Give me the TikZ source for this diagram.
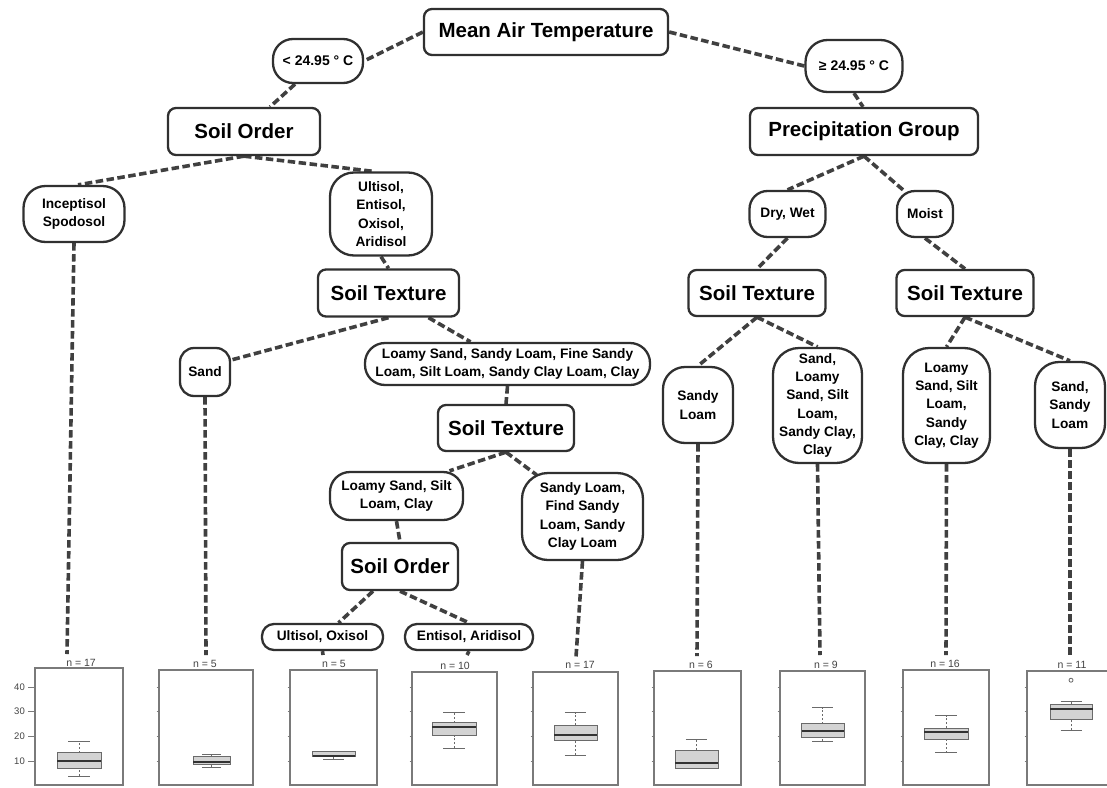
\documentclass[tikz,border=0pt]{standalone}
\usepackage{fontspec}
\setmainfont{Liberation Sans}
\usetikzlibrary{backgrounds}
\pgfdeclarelayer{bottom}
\pgfsetlayers{bottom,background,main}
\definecolor{lineC}{HTML}{303030}
\definecolor{edgeC}{HTML}{404040}
\definecolor{panelC}{HTML}{7A7A7A}
\definecolor{boxF}{HTML}{D3D3D3}
\definecolor{boxD}{HTML}{6A6A6A}
\definecolor{txtC}{HTML}{444444}
\newcommand\bxplot[7]{% xl xr wlo q1 med q3 whi
  \pgfmathsetmacro\bxc{(#1+#2)/2}
  \pgfmathsetmacro\bcw{(#2-#1)/4}
  \draw[whisk] (\bxc,{vy(#3)}) -- (\bxc,{vy(#4)});
  \draw[whisk] (\bxc,{vy(#6)}) -- (\bxc,{vy(#7)});
  \draw[capl] ({\bxc-\bcw},{vy(#3)}) -- ({\bxc+\bcw},{vy(#3)});
  \draw[capl] ({\bxc-\bcw},{vy(#7)}) -- ({\bxc+\bcw},{vy(#7)});
  \draw[boxs] (#1,{vy(#4)}) rectangle (#2,{vy(#6)});
  \draw[medl] (#1,{vy(#5)}) -- (#2,{vy(#5)});
}
\newcommand\panelframe[3]{% xl xr top
  \draw[panel] (#1,#3) rectangle (#2,785);
  \foreach \tv in {10,20,30,40}{\draw[tickl] ({#1-2.5},{vy(\tv)}) -- (#1,{vy(\tv)});}
}
\begin{document}
\begin{tikzpicture}[x=1pt,y=-1pt,
  declare function={vy(\v)=761.3-(\v-10)*2.48;},
  bignode/.style={draw=lineC,line width=2.3pt,rounded corners=8pt,fill=white,inner sep=0pt,
    font=\bfseries\fontsize{20.5}{24}\selectfont},
  labnode/.style={draw=lineC,line width=2.3pt,fill=white,inner sep=0pt,align=center,
    font=\bfseries\fontsize{13.7}{18.3}\selectfont},
  tempnode/.style={labnode,font=\bfseries\fontsize{14}{17}\selectfont},
  conn/.style={draw=edgeC,line width=3.6pt,dash pattern=on 7.5pt off 3.5pt},
  panel/.style={draw=panelC,line width=1.3pt},
  tickl/.style={draw=panelC,line width=0.7pt},
  whisk/.style={draw=boxD,line width=0.8pt,dash pattern=on 2pt off 2pt},
  capl/.style={draw=boxD,line width=1pt},
  boxs/.style={draw=boxD,fill=boxF,line width=1pt},
  medl/.style={draw=black!80,line width=2pt},
  nlab/.style={font=\fontsize{10.5}{12}\selectfont,text=txtC,inner sep=0pt},
  axlab/.style={font=\fontsize{9.5}{11}\selectfont,text=txtC,inner sep=0pt,anchor=east}
]
\useasboundingbox (0,0) rectangle (1107,787);
\begin{pgfonlayer}{bottom}
\fill[white] (0,0) rectangle (1107,787);
\end{pgfonlayer}

% ---------- tree nodes ----------
\node[bignode,minimum width=244pt,minimum height=46pt] (mat) at (546,32) {Mean Air Temperature};
\node[tempnode,rounded corners=20pt,minimum width=90pt,minimum height=44pt] (lt) at (318,61) {< 24.95 ° C};
\node[tempnode,rounded corners=22pt,minimum width=97pt,minimum height=52pt] (ge) at (854,66) {≥ 24.95 ° C};
\node[bignode,minimum width=152pt,minimum height=47pt] (so1) at (244,131.5) {Soil Order};
\node[bignode,minimum width=228pt,minimum height=47pt] (pg) at (864,131.5) {Precipitation Group};
\node[labnode,rounded corners=22pt,minimum width=101pt,minimum height=56pt] (inc) at (74,214) {Inceptisol\\Spodosol};
\node[labnode,rounded corners=24pt,minimum width=102pt,minimum height=83pt] (ult) at (381,214) {Ultisol,\\Entisol,\\Oxisol,\\Aridisol};
\node[bignode,minimum width=141pt,minimum height=47pt] (st1) at (388.5,293) {Soil Texture};
\node[labnode,rounded corners=14pt,minimum width=50pt,minimum height=48pt] (sand) at (205,372) {Sand};
\node[labnode,rounded corners=20pt,minimum width=285pt,minimum height=42pt] (lsl) at (507.5,364) {Loamy Sand, Sandy Loam, Fine Sandy\\Loam, Silt Loam, Sandy Clay Loam, Clay};
\node[bignode,minimum width=136pt,minimum height=46pt] (st2) at (506,428) {Soil Texture};
\node[labnode,rounded corners=20pt,minimum width=133pt,minimum height=48pt] (lsc) at (396.5,496) {Loamy Sand, Silt\\Loam, Clay};
\node[labnode,rounded corners=26pt,minimum width=121pt,minimum height=87pt] (slf) at (582.5,516.5) {Sandy Loam,\\Find Sandy\\Loam, Sandy\\Clay Loam};
\node[bignode,minimum width=116pt,minimum height=47pt] (so2) at (400,566.5) {Soil Order};
\node[labnode,rounded corners=12pt,minimum width=121pt,minimum height=26pt] (uo) at (322.5,637) {Ultisol, Oxisol};
\node[labnode,rounded corners=12pt,minimum width=128pt,minimum height=26pt] (ea) at (469,637) {Entisol, Aridisol};
\node[labnode,rounded corners=18pt,minimum width=76pt,minimum height=46pt] (dw) at (787.5,214) {Dry, Wet};
\node[labnode,rounded corners=18pt,minimum width=56pt,minimum height=46pt] (mo) at (925,214) {Moist};
\node[bignode,minimum width=137pt,minimum height=46pt] (st3) at (757,293) {Soil Texture};
\node[bignode,minimum width=137pt,minimum height=46pt] (st4) at (965,293) {Soil Texture};
\node[labnode,rounded corners=22pt,minimum width=70pt,minimum height=76pt] (sl) at (698,405) {Sandy\\Loam};
\node[labnode,rounded corners=26pt,minimum width=89pt,minimum height=115pt] (sls) at (817.5,405.5) {Sand,\\Loamy\\Sand, Silt\\Loam,\\Sandy Clay,\\Clay};
\node[labnode,rounded corners=26pt,minimum width=87pt,minimum height=115pt] (lss) at (946.5,405.5) {Loamy\\Sand, Silt\\Loam,\\Sandy\\Clay, Clay};
\node[labnode,rounded corners=24pt,minimum width=70pt,minimum height=86pt] (ssl) at (1070,405) {Sand,\\Sandy\\Loam};

% ---------- panel labels and free ends ----------
\node[nlab] (n1) at (81,663) {n = 17};
\node[nlab] (n2) at (205,664) {n = 5};
\node[nlab] (n3) at (334,664) {n = 5};
\node[nlab] (n4) at (455,666) {n = 10};
\node[nlab] (n5) at (580,665) {n = 17};
\node[nlab] (n6) at (701,665) {n = 6};
\node[nlab] (n7) at (826,665) {n = 9};
\node[nlab] (n8) at (945,664) {n = 16};
\node[nlab] (n9) at (1072,665) {n = 11};
\coordinate (e1) at (67,654);
\coordinate (e2) at (206,655);
\coordinate (e3) at (323,655);
\coordinate (e4) at (467,655);
\coordinate (e5) at (576,657);
\coordinate (e6) at (697,656);
\coordinate (e7) at (820,655);
\coordinate (e8) at (946,655);
\coordinate (e9) at (1070,657);

% ---------- connectors ----------
\begin{scope}[on background layer]
\draw[conn] (mat.west) -- (lt.east);
\draw[conn] (mat.east) -- (ge.west);
\draw[conn] ([xshift=-23pt]lt.south) -- ([xshift=26pt]so1.north);
\draw[conn] (ge.south) -- ([xshift=-1pt]pg.north);
\draw[conn] (so1.south) -- ([xshift=4pt]inc.north);
\draw[conn] (so1.south) -- ([xshift=-8pt]ult.north);
\draw[conn] (ult.south) -- (st1.north);
\draw[conn] (st1.south) -- ([yshift=12pt]sand.east);
\draw[conn] ([xshift=40pt]st1.south) -- ([xshift=-37pt]lsl.north);
\draw[conn] (lsl.south) -- (st2.north);
\draw[conn] (st2.south) -- ([xshift=53pt]lsc.north);
\draw[conn] (st2.south) -- ([xshift=-46pt,yshift=-3pt]slf.north);
\draw[conn] (lsc.south) -- (so2.north);
\draw[conn] ([xshift=-27pt]so2.south) -- ([xshift=16pt]uo.north);
\draw[conn] (so2.south) -- (ea.north);
\draw[conn] (pg.south) -- (dw.north);
\draw[conn] (pg.south) -- ([xshift=-22pt]mo.north);
\draw[conn] (dw.south) -- (st3.north);
\draw[conn] (mo.south) -- (st4.north);
\draw[conn] (st3.south) -- (sl.north);
\draw[conn] (st3.south) -- (sls.north);
\draw[conn] (st4.south) -- (lss.north);
\draw[conn] (st4.south) -- (ssl.north);
\draw[conn] (inc.south) -- (e1);
\draw[conn] (sand.south) -- (e2);
\draw[conn] (uo.south) -- (e3);
\draw[conn] (ea.south) -- (e4);
\draw[conn] (slf.south) -- (e5);
\draw[conn] (sl.south) -- (e6);
\draw[conn] (sls.south) -- (e7);
\draw[conn] (lss.south) -- (e8);
\draw[conn] (ssl.south) -- (e9);
\end{scope}

% ---------- box plot panels ----------
\draw[panel] (35,668) rectangle (123,785);
\foreach \tv in {10,20,30,40}{
  \draw[tickl] (28,{vy(\tv)}) -- (35,{vy(\tv)});
  \node[axlab] at (25,{vy(\tv)}) {\tv};
}
\panelframe{159}{253}{670}
\panelframe{290}{377}{670}
\panelframe{412}{497}{672}
\panelframe{533}{618}{672}
\panelframe{654}{741}{671}
\panelframe{780}{865}{671}
\panelframe{903}{989}{670}
\panelframe{1027}{1112}{671}

\bxplot{57}{101}{3.9}{7.3}{10}{13.4}{17.9}
\bxplot{193}{230}{7.7}{8.7}{9.7}{11.8}{12.7}
\bxplot{312.5}{355}{10.8}{11.8}{12.3}{14}{14}
\bxplot{432}{476}{15.2}{20.4}{23.7}{25.6}{29.8}
\bxplot{554}{597}{12.5}{18.4}{20.5}{24.6}{29.5}
\bxplot{675}{718}{7}{7}{9.3}{14.5}{18.7}
\bxplot{801.5}{844}{18.1}{19.5}{22.3}{25.1}{31.6}
\bxplot{924}{968}{13.5}{18.7}{21.8}{23.4}{28.3}
\bxplot{1050}{1092.6}{22.5}{26.8}{30.9}{33}{34.1}
\draw[boxD,line width=0.8pt] (1071,{vy(42.7)}) circle[radius=2pt];
\end{tikzpicture}
\end{document}
